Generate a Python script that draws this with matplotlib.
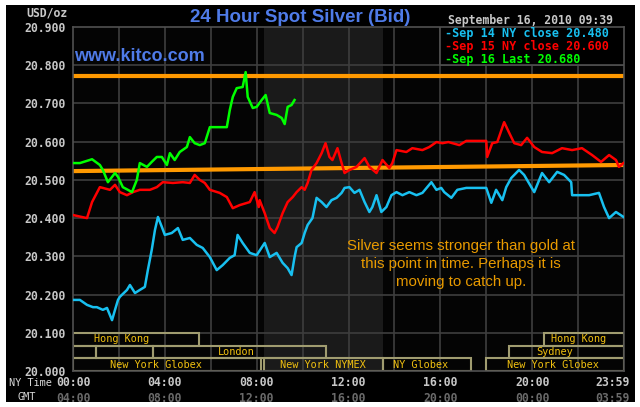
import matplotlib
matplotlib.use("Agg")
import matplotlib.pyplot as plt
from matplotlib.patches import Rectangle

# ---------------- data ----------------
sep14_h = [0, 0.30, 0.61, 0.87, 1.04, 1.30, 1.48, 1.70, 1.83, 1.96, 2.04, 2.35, 2.48, 2.70, 2.91,
           3.13, 3.26, 3.43, 3.57, 3.70, 3.87, 4.00, 4.30, 4.57, 4.78, 5.09, 5.39, 5.65, 5.96,
           6.26, 6.52, 6.83, 7.04, 7.17, 7.39, 7.70, 8.00, 8.35, 8.57, 8.87, 9.13, 9.35, 9.52,
           9.65, 9.74, 9.96, 10.09, 10.22, 10.43, 10.61, 10.83, 11.04, 11.26, 11.48, 11.70,
           11.83, 12.04, 12.26, 12.48, 12.70, 12.91, 13.04, 13.22, 13.43, 13.65, 13.87, 14.09,
           14.35, 14.65, 14.96, 15.22, 15.61, 15.83, 16.04, 16.17, 16.48, 16.74, 17.13, 18.00,
           18.22, 18.43, 18.70, 18.87, 19.09, 19.43, 19.65, 20.09, 20.43, 20.74, 21.09, 21.39,
           21.70, 21.74, 22.48, 22.91, 23.13, 23.35, 23.65, 23.98]
sep14_v = [20.186, 20.186, 20.173, 20.167, 20.167, 20.160, 20.165, 20.133, 20.160, 20.186, 20.194,
           20.212, 20.225, 20.204, 20.212, 20.220, 20.264, 20.317, 20.369, 20.403, 20.377, 20.356,
           20.361, 20.374, 20.343, 20.348, 20.330, 20.322, 20.298, 20.264, 20.277, 20.296, 20.303,
           20.356, 20.335, 20.309, 20.303, 20.335, 20.298, 20.309, 20.283, 20.269, 20.251, 20.298,
           20.324, 20.335, 20.361, 20.382, 20.400, 20.453, 20.442, 20.429, 20.447, 20.453, 20.466,
           20.479, 20.481, 20.466, 20.474, 20.442, 20.416, 20.429, 20.460, 20.416, 20.429, 20.460,
           20.468, 20.460, 20.468, 20.460, 20.466, 20.494, 20.474, 20.479, 20.468, 20.453, 20.474,
           20.479, 20.479, 20.440, 20.474, 20.447, 20.481, 20.505, 20.526, 20.513, 20.468, 20.518,
           20.494, 20.521, 20.513, 20.494, 20.460, 20.460, 20.466, 20.429, 20.400, 20.416, 20.403]

sep15_h = [0, 0.61, 0.83, 1.17, 1.30, 1.61, 1.83, 2.04, 2.35, 2.61, 2.91, 3.35, 3.65, 3.91, 4.35,
           4.78, 5.09, 5.30, 5.52, 5.74, 5.96, 6.39, 6.70, 6.96, 7.26, 7.70, 7.91, 8.09, 8.13,
           8.35, 8.57, 8.78, 8.91, 9.13, 9.35, 9.57, 9.74, 9.96, 10.09, 10.22, 10.39, 10.61,
           10.83, 11.00, 11.17, 11.30, 11.52, 11.70, 11.83, 12.04, 12.35, 12.70, 12.91, 13.22,
           13.48, 13.78, 13.91, 14.09, 14.52, 14.78, 15.22, 15.52, 15.83, 16.09, 16.35, 16.83,
           17.13, 18.00, 18.04, 18.26, 18.48, 18.78, 19.00, 19.22, 19.52, 19.78, 20.09, 20.43,
           20.87, 21.30, 21.74, 22.17, 22.61, 23.00, 23.35, 23.65, 23.78, 23.98]
sep15_v = [20.408, 20.400, 20.442, 20.481, 20.479, 20.474, 20.487, 20.468, 20.460, 20.468, 20.474,
           20.474, 20.481, 20.494, 20.492, 20.494, 20.492, 20.513, 20.500, 20.492, 20.474, 20.466,
           20.455, 20.426, 20.434, 20.442, 20.468, 20.429, 20.447, 20.413, 20.374, 20.361, 20.377,
           20.413, 20.442, 20.455, 20.468, 20.481, 20.474, 20.492, 20.526, 20.544, 20.570, 20.596,
           20.560, 20.552, 20.583, 20.544, 20.518, 20.526, 20.534, 20.557, 20.534, 20.518, 20.552,
           20.531, 20.544, 20.578, 20.573, 20.583, 20.578, 20.586, 20.599, 20.596, 20.599, 20.591,
           20.602, 20.602, 20.560, 20.596, 20.599, 20.651, 20.623, 20.596, 20.591, 20.610, 20.586,
           20.573, 20.570, 20.583, 20.578, 20.583, 20.565, 20.547, 20.565, 20.552, 20.534, 20.544]

sep16_h = [0, 0.30, 0.83, 1.17, 1.30, 1.52, 1.83, 1.96, 2.17, 2.39, 2.57, 2.78, 2.91, 3.22, 3.43,
           3.65, 3.87, 4.09, 4.22, 4.43, 4.65, 4.96, 5.09, 5.30, 5.52, 5.74, 5.96, 6.70, 6.83,
           6.96, 7.13, 7.39, 7.52, 7.61, 7.83, 8.00, 8.22, 8.39, 8.57, 8.87, 9.09, 9.22, 9.35,
           9.52, 9.65]
sep16_v = [20.544, 20.544, 20.554, 20.539, 20.526, 20.494, 20.518, 20.508, 20.481, 20.474, 20.468,
           20.500, 20.544, 20.534, 20.547, 20.560, 20.560, 20.539, 20.570, 20.552, 20.573, 20.586,
           20.612, 20.596, 20.591, 20.596, 20.638, 20.638, 20.683, 20.717, 20.740, 20.743, 20.782,
           20.717, 20.688, 20.691, 20.709, 20.722, 20.675, 20.670, 20.662, 20.646, 20.691, 20.696,
           20.709]

upper_line = [20.773, 20.773]
lower_line = [20.523, 20.539]

y_ticks = [20.0, 20.1, 20.2, 20.3, 20.4, 20.5, 20.6, 20.7, 20.8, 20.9]
ny_hours = [0, 4, 8, 12, 16, 20, 23.99]
ny_labels = ["00:00", "04:00", "08:00", "12:00", "16:00", "20:00", "23:59"]
gmt_labels = ["04:00", "08:00", "12:00", "16:00", "20:00", "00:00", "03:59"]

legend_labels = ["-Sep 14 NY close 20.480", "-Sep 15 NY close 20.600", "-Sep 16 Last 20.680"]

# sessions: (start hour, end hour, row, label, label hour)
sessions = [
    (0.0, 5.5, 2, "Hong Kong", 2.1),
    (20.5, 24.0, 2, "Hong Kong", 22.0),
    (0.0, 1.0, 1, "", 0),
    (1.0, 3.5, 1, "", 0),
    (3.5, 11.0, 1, "London", 7.13),
    (19.0, 24.0, 1, "Sydney", 20.96),
    (0.0, 8.2, 0, "New York Globex", 3.6),
    (8.33, 13.5, 0, "New York NYMEX", 10.87),
    (13.5, 17.35, 0, "NY Globex", 15.16),
    (18.0, 24.0, 0, "New York Globex", 20.9),
]
pit_start, pit_end = 8.33, 13.5

# ---------------- style ----------------
C_BG = "#040404"
C_GRID = "#3e3e3e"
C_TICK = "#c8c8c8"
C_GMT = "#6a6a6a"
C_ORANGE = "#ff9900"
C_BLUE = "#18c0f0"
C_RED = "#ff0000"
C_GREEN = "#00ff00"
C_TITLE = "#4f7be8"
C_SESS_EDGE = "#a09c70"
C_SESS_TXT = "#f0c010"
MONO = "DejaVu Sans Mono"

fig = plt.figure(figsize=(6.4, 4.07), dpi=100, facecolor="white")
fig.patches.append(Rectangle((6 / 640, 5 / 407), 629 / 640, 397 / 407, transform=fig.transFigure,
                             facecolor="black", edgecolor="none", zorder=-10))

ax = fig.add_axes([73 / 640, 1 - 371 / 407, 551 / 640, 344 / 407])
ax.set_zorder(1)
ax.set_facecolor(C_BG)
ax.set_xlim(0, 24)
ax.set_ylim(20.0, 20.9)

# pit session shading
ax.axvspan(pit_start, pit_end, color="#1a1a1a", zorder=0.5, lw=0)

# grid
for y in y_ticks[1:-1]:
    ax.axhline(y, color=C_GRID, lw=1.2, zorder=1)
for h in range(2, 24, 2):
    ax.axvline(h, color=C_GRID, lw=1.2, zorder=1)

for s in ax.spines.values():
    s.set_color("#505050")
    s.set_linewidth(1.2)

ax.set_yticks(y_ticks)
ax.set_yticklabels([f"{v:.3f}" for v in y_ticks])
ax.tick_params(axis="y", length=0, pad=5, labelsize=8.3, labelcolor=C_TICK)
for t in ax.get_yticklabels():
    t.set_family(MONO)
    t.set_fontweight("bold")
ax.set_xticks([])

# legend box
ax.add_patch(Rectangle((16.0, 20.8), 8.0, 0.1, facecolor="black", edgecolor="#505050", lw=1.2, zorder=3))
leg_cols = [C_BLUE, C_RED, C_GREEN]
leg_y = [20.882, 20.850, 20.816]
for lab, col, yy in zip(legend_labels, leg_cols, leg_y):
    ax.text(16.2, yy, lab, color=col, family=MONO, fontweight="bold", fontsize=8.5,
            va="center", ha="left", zorder=4)

# session boxes
row_h = 0.1 / 3
for (s0, s1, row, lab, lx) in sessions:
    y0 = 20.0 + row * row_h
    ax.add_patch(Rectangle((s0, y0), s1 - s0, row_h, facecolor="none",
                           edgecolor=C_SESS_EDGE, lw=1.5, zorder=2))
    if lab:
        ax.text(lx, y0 + row_h / 2, lab, color=C_SESS_TXT, family=MONO, fontsize=7.4,
                ha="center", va="center", zorder=3)

# reference lines
ax.plot([0, 24], upper_line, color=C_ORANGE, lw=3, zorder=2.5, solid_capstyle="butt")
ax.plot([0, 24], lower_line, color=C_ORANGE, lw=3, zorder=2.5, solid_capstyle="butt")

# data lines
ax.plot(sep14_h, sep14_v, color=C_BLUE, lw=1.8, zorder=5)
ax.plot(sep15_h, sep15_v, color=C_RED, lw=1.8, zorder=5)
ax.plot(sep16_h, sep16_v, color=C_GREEN, lw=1.8, zorder=6)

# annotation
ax.text(16.9, 20.280, "Silver seems stronger than gold at\nthis point in time. Perhaps it is\nmoving to catch up.",
        color="#e89a00", fontsize=10.8, family="Liberation Sans", ha="center", va="center",
        linespacing=1.33, zorder=6)

ax.text(0.05, 20.8, "www.kitco.com", color=C_TITLE, fontsize=13, fontweight="bold",
        family="Liberation Sans", ha="left", va="bottom", zorder=6)

# x labels (NY time and GMT)
for h, l1, l2 in zip(ny_hours, ny_labels, gmt_labels):
    dx = -8 if h > 23 else 0
    ax.annotate(l1, xy=(h, 0), xycoords=("data", "axes fraction"), xytext=(dx, -8),
                textcoords="offset points", ha="center", va="center", family=MONO, fontweight="bold",
                fontsize=8.3, color=C_TICK, annotation_clip=False)
    ax.annotate(l2, xy=(h, 0), xycoords=("data", "axes fraction"), xytext=(dx, -19.5),
                textcoords="offset points", ha="center", va="center", family=MONO, fontweight="bold",
                fontsize=8.3, color=C_GMT, annotation_clip=False)

fig.text(30 / 640, 1 - 383 / 407, "NY Time", color="#d8d8d8", family=MONO, fontsize=7.4,
         ha="center", va="center")
fig.text(27 / 640, 1 - 397 / 407, "GMT", color="#d8d8d8", family=MONO, fontsize=7.4,
         ha="center", va="center")
fig.text(47 / 640, 1 - 13 / 407, "USD/oz", color=C_TICK, family=MONO, fontweight="bold",
         fontsize=8.3, ha="center", va="center")
fig.text(300 / 640, 1 - 18 / 407, "24 Hour Spot Silver (Bid)", color=C_TITLE, fontsize=13.5,
         fontweight="bold", family="Liberation Sans", ha="center", va="center")
fig.text(530 / 640, 1 - 20.5 / 407, "September 16, 2010 09:39", color=C_TICK, family=MONO,
         fontweight="bold", fontsize=8.3, ha="center", va="center")

fig.savefig("out.png", dpi=100, facecolor="white")
